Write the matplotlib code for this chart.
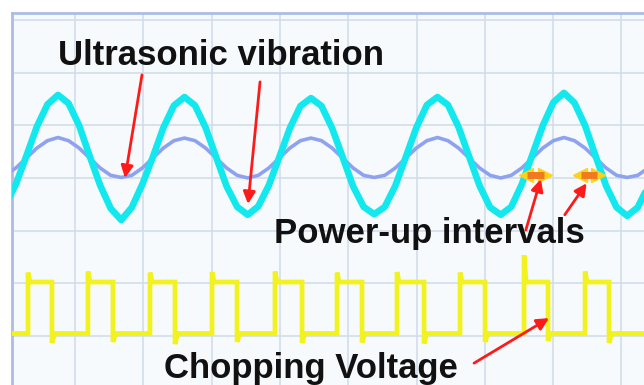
import numpy as np
import matplotlib
matplotlib.use("Agg")
import matplotlib.pyplot as plt

plt.rcParams['font.family'] = ['Liberation Sans', 'DejaVu Sans']

# time base (grid divisions), one sample every 1/12 of a vibration period
t_start = -1.02
t_step = 0.1543

# ultrasonic vibration, large trace (cyan)
vib_big = [-0.52, -0.12, 0.42, 0.98, 1.40, 1.58,
           1.42, 1.00, 0.42, -0.14, -0.58, -0.80,
           -0.56, -0.12, 0.40, 0.96, 1.38, 1.54,
           1.38, 0.96, 0.40, -0.16, -0.55, -0.70,
           -0.54, -0.14, 0.40, 0.95, 1.37, 1.52,
           1.37, 0.95, 0.40, -0.16, -0.55, -0.69,
           -0.55, -0.15, 0.40, 0.96, 1.39, 1.54,
           1.39, 0.97, 0.41, -0.15, -0.56, -0.70,
           -0.55, -0.12, 0.44, 1.00, 1.44, 1.62,
           1.43, 1.00, 0.42, -0.15, -0.56, -0.72,
           -0.56, -0.15]

# ultrasonic vibration, small trace (lavender)
vib_small = [0.05, 0.19, 0.38, 0.57, 0.71, 0.77,
             0.71, 0.57, 0.38, 0.19, 0.05, 0.01,
             0.05, 0.19, 0.38, 0.57, 0.71, 0.76,
             0.71, 0.57, 0.38, 0.19, 0.05, 0.00,
             0.05, 0.19, 0.38, 0.57, 0.71, 0.76,
             0.71, 0.57, 0.38, 0.19, 0.05, 0.01,
             0.05, 0.19, 0.38, 0.57, 0.71, 0.77,
             0.71, 0.57, 0.38, 0.19, 0.05, 0.00,
             0.05, 0.19, 0.38, 0.57, 0.71, 0.77,
             0.71, 0.57, 0.38, 0.19, 0.05, 0.01,
             0.05, 0.19]

# chopping voltage edges and levels
rise_t = [-0.688, 0.190, 1.098, 2.006, 2.928, 3.836, 4.714, 5.637, 6.574, 7.467]
fall_t = [-0.337, 0.556, 1.464, 2.372, 3.324, 4.202, 5.110, 6.003, 6.925, 7.818]
rise_spike = [-1.80, -1.78, -1.80, -1.79, -1.78, -1.80, -1.79, -1.80, -1.47, -1.78]
fall_spike = [-3.14, -3.12, -3.16, -3.12, -3.14, -3.13, -3.15, -3.12, -3.10, -3.14]
v_high = -1.98
v_low = -2.96

# power-up intervals (start, end) at vibration trough level
powerup = [(6.545, 6.94), (7.335, 7.716)]
powerup_y = 0.06

t_left, t_right = -0.922, 8.33
y_bottom, y_top = -3.94, 3.14

fig = plt.figure(figsize=(6.44, 3.85), dpi=100)
ax = fig.add_axes([12 / 644, 0, 632 / 644, 372 / 385])
ax.set_facecolor('#F6FAFD')
ax.set_xlim(t_left, t_right)
ax.set_ylim(y_bottom, y_top)
ax.set_xticks(range(0, 9))
ax.set_yticks(range(-3, 4))
ax.grid(True, color='#D3DCEC', lw=1.2)
ax.tick_params(length=0, labelbottom=False, labelleft=False)
for side in ['right', 'bottom']:
    ax.spines[side].set_visible(False)
for side in ['top', 'left']:
    ax.spines[side].set_color('#ABBDE3')
    ax.spines[side].set_linewidth(2)

t = t_start + t_step * np.arange(len(vib_big))
ax.plot(t, vib_small, color='#8FA2F0', lw=2.6, solid_joinstyle='round', zorder=3)
ax.plot(t, vib_big, color='#12E8EE', lw=4.8, solid_joinstyle='round',
        solid_capstyle='round', zorder=4)

# build the square wave path from the edges
xs = [t_left]
ys = [v_low]
for r, f, su, sd in zip(rise_t, fall_t, rise_spike, fall_spike):
    xs += [r, r, r + 0.03, f, f, f + 0.04]
    ys += [v_low, su, v_high, v_high, sd, v_low]
xs.append(t_right)
ys.append(v_low)
ax.plot(xs, ys, color='#F2F21E', lw=3.4, solid_joinstyle='miter', zorder=3)

# labels
tkw = dict(fontsize=25, fontweight='bold', color='#111111', ha='center', va='baseline', zorder=6)
ax.text(2.14, 2.15, 'Ultrasonic vibration', **tkw)
ax.text(5.19, -1.24, 'Power-up intervals', **tkw)
ax.text(3.455, -3.81, 'Chopping Voltage', **tkw)

# red arrows
akw = dict(arrowstyle='-|>', color='#FF1A1A', lw=2.0, mutation_scale=18, shrinkA=0, shrinkB=0)
arrows = [((0.981, 1.962), (0.732, 0.0)),
          ((2.709, 1.829), (2.533, -0.495)),
          ((6.60, -0.99), (6.82, -0.02)),
          ((7.17, -0.70), (7.49, -0.10)),
          ((5.842, -3.524), (6.94, -2.667))]
for tail, tip in arrows:
    ax.annotate('', xy=tip, xytext=tail, arrowprops=akw, zorder=7)

# power-up interval markers: gold double arrow with orange bar
for a, b in powerup:
    ax.plot([a + 0.06], [powerup_y], marker='<', ms=10, color='#FFD21A', mec='#FFD21A', zorder=5)
    ax.plot([b - 0.06], [powerup_y], marker='>', ms=10, color='#FFD21A', mec='#FFD21A', zorder=5)
    ax.plot([a + 0.07, b - 0.07], [powerup_y, powerup_y], color='#F07A1E', lw=5,
            solid_capstyle='butt', zorder=6)

fig.savefig('out.png', dpi=100)
